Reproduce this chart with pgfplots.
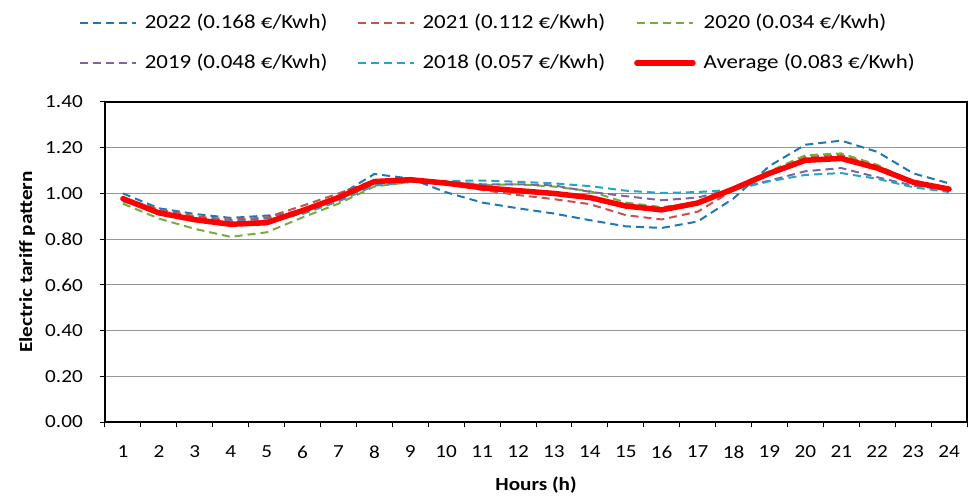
\documentclass[border=0pt]{standalone}
\usepackage{fontspec}
\setmainfont{Carlito}[FakeStretch=1.15]
\usepackage{pgfplots}
\pgfplotsset{compat=1.18}
\definecolor{c22}{RGB}{31,119,180}
\definecolor{c21}{RGB}{200,80,77}
\definecolor{c20}{RGB}{122,170,60}
\definecolor{c19}{RGB}{128,100,162}
\definecolor{c18}{RGB}{36,165,195}
\definecolor{gridgray}{RGB}{150,150,150}
\begin{document}
\fontsize{18.5}{22}\selectfont
\begin{tikzpicture}
\begin{axis}[
  scale only axis, width=862bp, height=320bp,
  xmin=0.5, xmax=24.5, ymin=0, ymax=1.4,
  xtick={0.5,1.5,...,24.5},
  x tick label as interval,
  xticklabels={1,2,3,4,5,6,7,8,9,10,11,12,13,14,15,16,17,18,19,20,21,22,23,24},
  ytick={0,0.2,0.4,0.6,0.8,1.0,1.2,1.4},
  /pgf/number format/fixed, /pgf/number format/fixed zerofill, /pgf/number format/precision=2,
  /pgf/number format/assume math mode=true,
  tick pos=left, tick align=outside, major tick length=5bp,
  tick style={black, line width=1bp},
  x tick label style={anchor=center, inner sep=0pt, yshift=-25bp},
  y tick label style={anchor=east, inner sep=0pt, xshift=-17bp},
  ymajorgrids, grid style={gridgray, line width=1.2bp},
  axis line style={black, line width=1.3bp},
  xlabel={\textbf{Hours (h)}},
  ylabel={\textbf{Electric tariff pattern}},
  every axis x label/.style={at={(axis description cs:0.5,0)}, yshift=-63bp, anchor=center},
  every axis y label/.style={at={(axis description cs:0,0.5)}, xshift=-78bp, rotate=90, anchor=center},
  legend columns=3,
  legend cell align=left,
  legend style={at={(axis description cs:-0.034,1.288)}, anchor=north west, draw=none, fill=none,
    font=\fontsize{20}{24}\selectfont,
    row sep=19bp,
    /tikz/every odd column/.append style={column sep=6bp},
    /tikz/every even column/.append style={column sep=27bp}},
  legend image code/.code={\draw[#1] (0bp,0bp) -- (56bp,0bp);},
  dashl/.style={line width=2bp, dash pattern=on 8bp off 5bp},
]
\addplot[c22, dashl] coordinates {(1,1.00) (2,0.935) (3,0.91) (4,0.893) (5,0.903) (6,0.915) (7,0.99) (8,1.085) (9,1.065) (10,1.005) (11,0.96) (12,0.935) (13,0.912) (14,0.883) (15,0.856) (16,0.849) (17,0.877) (18,0.978) (19,1.12) (20,1.213) (21,1.231) (22,1.182) (23,1.088) (24,1.044)};
\addlegendentry{2022 (0.168 €/Kwh)}
\addplot[c21, dashl] coordinates {(1,0.98) (2,0.93) (3,0.90) (4,0.885) (5,0.895) (6,0.946) (7,1.0) (8,1.058) (9,1.06) (10,1.045) (11,1.015) (12,0.993) (13,0.975) (14,0.953) (15,0.905) (16,0.886) (17,0.92) (18,1.015) (19,1.09) (20,1.16) (21,1.168) (22,1.12) (23,1.05) (24,1.02)};
\addlegendentry{2021 (0.112 €/Kwh)}
\addplot[c20, dashl] coordinates {(1,0.955) (2,0.89) (3,0.845) (4,0.81) (5,0.83) (6,0.895) (7,0.955) (8,1.03) (9,1.05) (10,1.05) (11,1.037) (12,1.04) (13,1.03) (14,1.01) (15,0.96) (16,0.94) (17,0.96) (18,1.026) (19,1.097) (20,1.167) (21,1.175) (22,1.125) (23,1.05) (24,1.02)};
\addlegendentry{2020 (0.034 €/Kwh)}
\addplot[c19, dashl] coordinates {(1,0.97) (2,0.925) (3,0.895) (4,0.88) (5,0.89) (6,0.93) (7,0.98) (8,1.04) (9,1.055) (10,1.05) (11,1.04) (12,1.04) (13,1.035) (14,1.007) (15,0.988) (16,0.97) (17,0.982) (18,1.02) (19,1.056) (20,1.097) (21,1.111) (22,1.071) (23,1.034) (24,1.015)};
\addlegendentry{2019 (0.048 €/Kwh)}
\addplot[c18, dashl] coordinates {(1,0.965) (2,0.92) (3,0.89) (4,0.875) (5,0.88) (6,0.91) (7,0.965) (8,1.034) (9,1.05) (10,1.055) (11,1.056) (12,1.051) (13,1.044) (14,1.032) (15,1.012) (16,1.002) (17,1.006) (18,1.016) (19,1.053) (20,1.081) (21,1.089) (22,1.064) (23,1.027) (24,1.006)};
\addlegendentry{2018 (0.057 €/Kwh)}
\addplot[red, line width=5.5bp, line join=round, line cap=round] coordinates {(1,0.977) (2,0.915) (3,0.885) (4,0.865) (5,0.872) (6,0.925) (7,0.982) (8,1.052) (9,1.06) (10,1.045) (11,1.025) (12,1.012) (13,1.0) (14,0.982) (15,0.945) (16,0.928) (17,0.958) (18,1.02) (19,1.088) (20,1.145) (21,1.153) (22,1.111) (23,1.049) (24,1.019)};
\addlegendentry{Average (0.083 €/Kwh)}
\end{axis}
\pgfresetboundingbox
\path (-105bp,-76bp) rectangle (865bp,422bp);
\end{tikzpicture}
\end{document}
